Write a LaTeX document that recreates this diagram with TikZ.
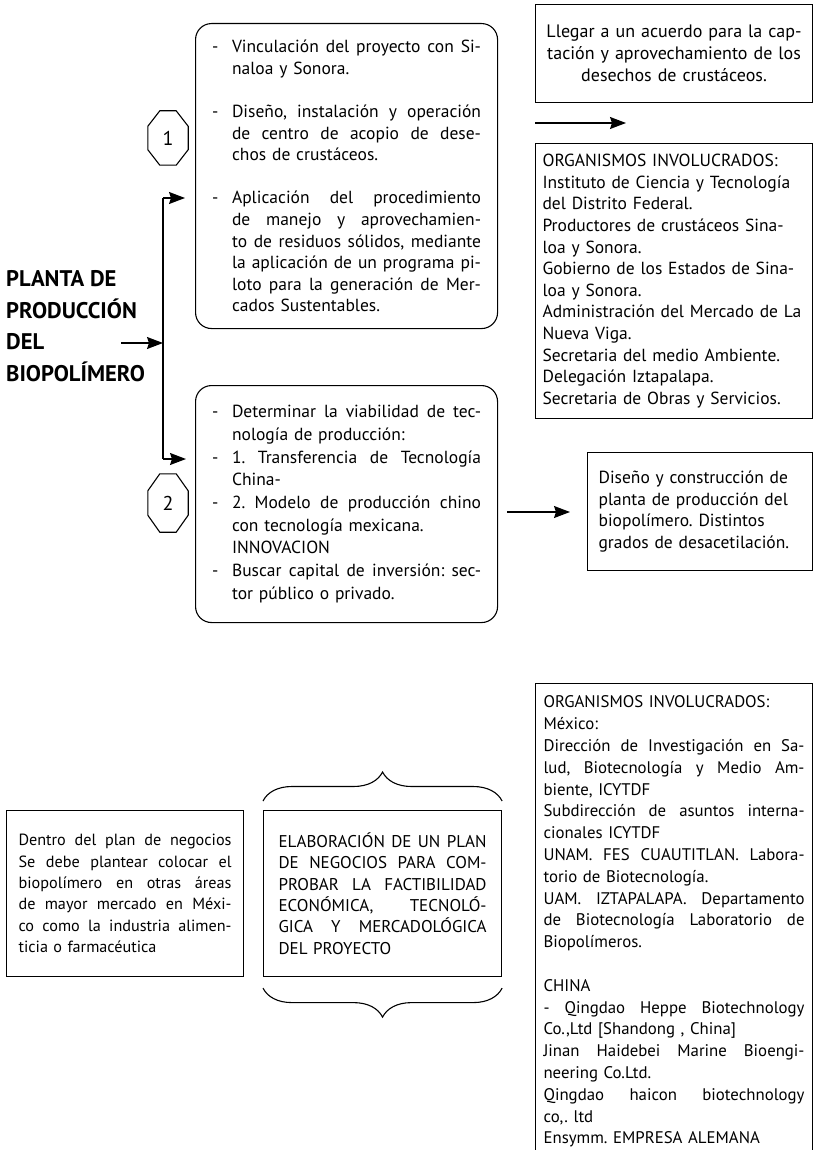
\documentclass[tikz,border=0pt]{standalone}
\usepackage{fontspec}
\setmainfont{PT Sans}
\frenchspacing
\usetikzlibrary{calc,decorations.pathreplacing,arrows.meta}

\newcommand\guion{\makebox[20pt][l]{-}}
\newcommand\sangria{\hspace*{20pt}}
% one justified line of a given width
\newcommand\ju[2][\linewidth]{{\spaceskip=\fontdimen2\font plus 1fil minus .3\fontdimen2\font
  \xspaceskip=\spaceskip\makebox[#1][s]{#2}}}
% octagon frame drawn round a named node: name, chamfer x, chamfer y
\newcommand\octagono[3]{%
  \draw[line width=1.1pt] ($(#1.north west)+(#2,0)$) -- ($(#1.north east)+(-#2,0)$)
    -- ($(#1.north east)+(0,#3)$) -- ($(#1.south east)+(0,-#3)$)
    -- ($(#1.south east)+(-#2,0)$) -- ($(#1.south west)+(#2,0)$)
    -- ($(#1.south west)+(0,-#3)$) -- ($(#1.north west)+(0,#3)$) -- cycle;}

\tikzset{
  texto/.style={font=\fontsize{17.5}{21.6}\selectfont},
  caja/.style={draw, line width=1.1pt, texto, inner ysep=0pt, align=left, anchor=north west},
  cajaredonda/.style={caja, rounded corners=16pt},
  numero/.style={minimum width=40pt, inner sep=0pt, font=\fontsize{20}{24}\selectfont},
  linea/.style={line width=1.3pt},
  flecha/.style={line width=1.3pt, -{Stealth[length=16pt,width=12pt,inset=2pt]}},
}

\begin{document}
\begin{tikzpicture}[x=1pt,y=-1pt]
\useasboundingbox (0,0) rectangle (813,1150);

% ---- title and the forked connector ----
\node[anchor=west, inner sep=0pt, align=left, font=\bfseries\fontsize{22.6}{31.6}\selectfont] (titulo) at (6,326)
  {PLANTA DE\\PRODUCCIÓN\\DEL\\BIOPOLÍMERO};
\coordinate (ramaA) at (163,198);
\coordinate (ramaB) at (163,459);
\coordinate (ramaM) at (163,343);
\coordinate (inicioM) at (121,343);
\coordinate (puntaA) at (185,198);
\coordinate (puntaB) at (186,459);
\draw[linea] (ramaA) -- (ramaB);
\draw[flecha] (ramaA) -- (puntaA);
\draw[flecha] (ramaB) -- (puntaB);
\draw[flecha] (inicioM) -- (ramaM);

% ---- step 1 ----
\node[cajaredonda, minimum width=302pt, minimum height=305pt, text width=269pt, inner xsep=16.5pt] (paso1) at (195,23)
  {\guion\ju[249pt]{Vinculación del proyecto con Si-}\\
   \sangria naloa y Sonora.\\[21.6pt]
   \guion\ju[249pt]{Diseño, instalación y operación}\\
   \sangria\ju[249pt]{de centro de acopio de dese-}\\
   \sangria chos de crustáceos.\\[21.6pt]
   \guion\ju[249pt]{Aplicación del procedimiento}\\
   \sangria\ju[249pt]{de manejo y aprovechamien-}\\
   \sangria\ju[249pt]{to de residuos sólidos, mediante}\\
   \sangria\ju[249pt]{la aplicación de un programa pi-}\\
   \sangria\ju[249pt]{loto para la generación de Mer-}\\
   \sangria cados Sustentables.};
\node[numero, minimum height=54pt] (num1) at (168,138) {1};
\octagono{num1}{12}{15.5}

% ---- step 2 ----
\node[cajaredonda, minimum width=302pt, minimum height=237pt, text width=269pt, inner xsep=16.5pt,
      font=\fontsize{17.5}{22.7}\selectfont] (paso2) at (195,385)
  {\guion\ju[249pt]{Determinar la viabilidad de tec-}\\
   \sangria nología de producción:\\
   \guion\ju[249pt]{1. Transferencia de Tecnología}\\
   \sangria China-\\
   \guion\ju[249pt]{2. Modelo de producción chino}\\
   \sangria con tecnología mexicana.\\
   \sangria INNOVACION\\
   \guion\ju[249pt]{Buscar capital de inversión: sec-}\\
   \sangria tor público o privado.};
\node[numero, minimum height=58pt] (num2) at (168,503) {2};
\octagono{num2}{12}{17}

% ---- right column ----
\node[caja, align=center, minimum width=277pt, minimum height=98pt, text width=263pt, inner xsep=7pt,
      font=\fontsize{18}{21.8}\selectfont] (acuerdo) at (535,4)
  {Llegar a un acuerdo para la cap-\\tación y aprovechamiento de los\\desechos de crustáceos.};
\coordinate (inicio1) at (535,123);
\coordinate (punta1) at (626,123);
\draw[flecha] (inicio1) -- (punta1);

\node[caja, minimum width=277pt, minimum height=275pt, text width=267pt, inner xsep=5pt,
      font=\fontsize{17.5}{21.6}\selectfont] (organismos1) at (535,143)
  {\hspace*{2pt}ORGANISMOS INVOLUCRADOS:\\
   \hspace*{2pt}Instituto de Ciencia y Tecnología\\
   \hspace*{2pt}del Distrito Federal.\\
   \hspace*{2pt}Productores de crustáceos Sina-\\
   \hspace*{2pt}loa y Sonora.\\
   \hspace*{2pt}Gobierno de los Estados de Sina-\\
   \hspace*{2pt}loa y Sonora.\\
   \hspace*{2pt}Administración del Mercado de La\\
   \hspace*{2pt}Nueva Viga.\\
   \hspace*{2pt}Secretaria del medio Ambiente.\\
   \hspace*{2pt}Delegación Iztapalapa.\\
   \hspace*{2pt}Secretaria de Obras y Servicios.};

\coordinate (inicio2) at (507,512);
\coordinate (punta2) at (570,512);
\draw[flecha] (inicio2) -- (punta2);
\node[caja, minimum width=225pt, minimum height=118pt, text width=203pt, inner xsep=11pt] (planta) at (587,452)
  {Diseño y construcción de\\planta de producción del\\biopolímero. Distintos\\grados de desacetilación.};

% ---- business plan ----
\node[caja, minimum width=237pt, minimum height=166pt, text width=213pt, inner xsep=12pt,
      font=\fontsize{16.2}{21.4}\selectfont] (dentro) at (6,810)
  {\ju{Dentro del plan de negocios}\\
   \ju{Se debe plantear colocar el}\\
   \ju{biopolímero en otras áreas}\\
   \ju{de mayor mercado en Méxi-}\\
   \ju{co como la industria alimen-}\\
   ticia o farmacéutica};
\node[caja, minimum width=238pt, minimum height=166pt, text width=208pt, inner xsep=15pt,
      font=\fontsize{17}{21.4}\selectfont] (plan) at (263,810)
  {\ju{ELABORACIÓN DE UN PLAN}\\
   \ju{DE NEGOCIOS PARA COM-}\\
   \ju{PROBAR LA FACTIBILIDAD}\\
   \ju{ECONÓMICA, TECNOLÓ-}\\
   \ju{GICA Y MERCADOLÓGICA}\\
   DEL PROYECTO};
\draw[line width=1.1pt, decorate, decoration={brace, amplitude=29pt}]
  ($(plan.north west)+(0,-9)$) -- ($(plan.north east)+(0,-9)$);
\draw[line width=1.1pt, decorate, decoration={brace, amplitude=29pt}]
  ($(plan.south east)+(0,11)$) -- ($(plan.south west)+(0,11)$);

% ---- second list of bodies (runs off the page) ----
\node[caja, minimum width=277pt, minimum height=476pt, text width=261pt, inner xsep=8pt,
      font=\fontsize{16.8}{21.8}\selectfont] (organismos2) at (535,683)
  {ORGANISMOS INVOLUCRADOS:\\
   México:\\
   \ju{Dirección de Investigación en Sa-}\\
   \ju{lud, Biotecnología y Medio Am-}\\
   biente, ICYTDF\\
   \ju{Subdirección de asuntos interna-}\\
   cionales ICYTDF\\
   \ju{UNAM. FES CUAUTITLAN. Labora-}\\
   torio de Biotecnología.\\
   \ju{UAM. IZTAPALAPA. Departamento}\\
   \ju{de Biotecnología Laboratorio de}\\
   Biopolímeros.\\[21.8pt]
   CHINA\\
   \ju{- Qingdao Heppe Biotechnology}\\
   Co.,Ltd [Shandong , China]\\
   \ju{Jinan Haidebei Marine Bioengi-}\\
   neering Co.Ltd.\\
   \ju{Qingdao haicon biotechnology}\\
   co,. ltd\\
   Ensymm. EMPRESA ALEMANA};

\end{tikzpicture}
\end{document}
